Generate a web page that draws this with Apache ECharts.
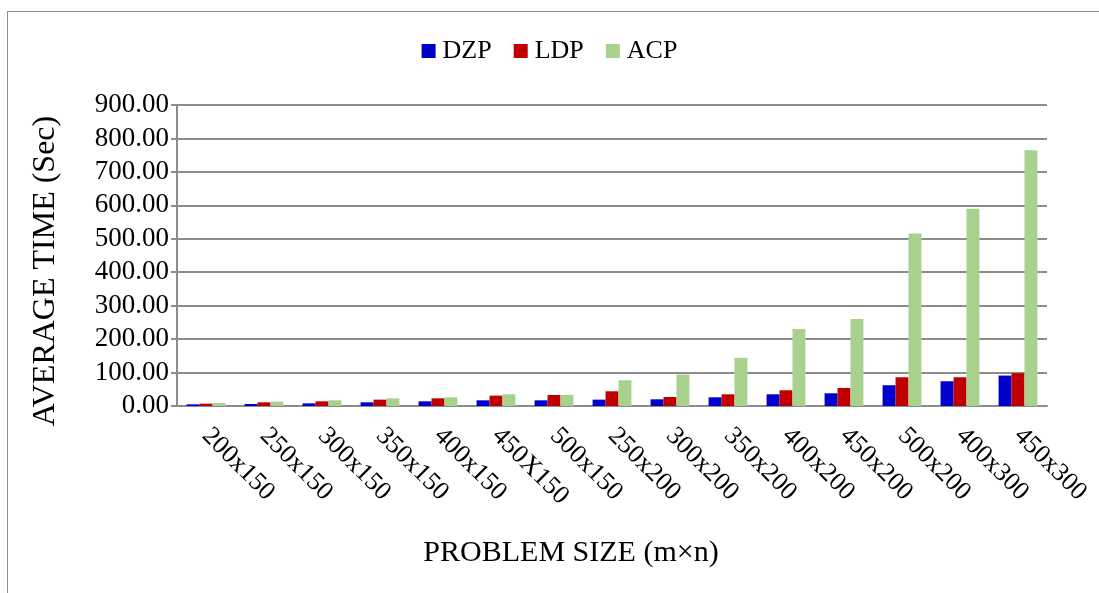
<!DOCTYPE html>
<html>
<head>
<meta charset="utf-8">
<script src="https://cdn.jsdelivr.net/npm/echarts@6/dist/echarts.min.js"></script>
<style>
  html, body { margin: 0; padding: 0; background: #fff; }
  #frame { position: absolute; left: 7px; top: 11px; width: 1100px; height: 600px; border: 1px solid #8c8c8c; border-right: none; border-bottom: none; }
  #chart { width: 1099px; height: 593px; position: absolute; left: 0; top: 0; }
</style>
</head>
<body>
<div id="frame"></div>
<div id="chart"></div>
<script>
  const problemSizes = ['200x150', '250x150', '300x150', '350x150', '400x150', '450X150', '500x150',
    '250x200', '300x200', '350x200', '400x200', '450x200', '500x200', '400x300', '450x300'];
  const dzp = [5, 6, 8, 11, 14, 17, 17, 19, 20, 26, 35, 38, 62, 74, 91];
  const ldp = [7, 11, 14, 19, 23, 31, 33, 44, 27, 35, 47, 54, 86, 86, 98];
  const acp = [9, 13, 17, 23, 26, 35, 33, 77, 94, 144, 230, 260, 516, 590, 765];

  const chartInstance = echarts.init(document.getElementById('chart'));
  const serif = 'Liberation Serif';

  const bar = (name, data, color) => ({
    name: name,
    type: 'bar',
    data: data,
    barGap: '0%',
    barCategoryGap: '33%',
    itemStyle: { color: color },
  });

  const option = {
    animation: false,
    textStyle: { fontFamily: serif, color: '#000' },
    legend: {
      top: 33,
      left: 'center',
      itemWidth: 14,
      itemHeight: 14,
      itemGap: 22,
      icon: 'rect',
      textStyle: { fontFamily: serif, fontSize: 26, color: '#000', padding: [0, 0, 0, 2] },
      data: ['DZP', 'LDP', 'ACP'],
    },
    grid: { left: 177, right: 52, top: 105, bottom: 187 },
    graphic: [
      {
        type: 'text',
        x: 571,
        y: 553,
        style: {
          text: 'PROBLEM SIZE (m\u00d7n)', font: '30px "Liberation Serif"', fill: '#000',
          align: 'center', verticalAlign: 'middle',
        },
      },
      {
        type: 'text',
        x: 46,
        y: 271,
        rotation: Math.PI / 2,
        style: {
          text: 'AVERAGE TIME (Sec)', font: '32px "Liberation Serif"', fill: '#000',
          align: 'center', verticalAlign: 'middle',
        },
      },
    ],
    xAxis: {
      type: 'category',
      data: problemSizes,
      axisLine: { lineStyle: { color: '#8c8c8c', width: 2 } },
      axisTick: { show: false },
      axisLabel: { rotate: -45, fontFamily: serif, fontSize: 26, color: '#000', margin: 26, interval: 0 },
    },
    yAxis: {
      type: 'value',
      min: 0,
      max: 900,
      interval: 100,
      axisLine: { show: true, lineStyle: { color: '#8c8c8c', width: 2 } },
      axisTick: { show: true, length: 6, lineStyle: { color: '#8c8c8c', width: 2 } },
      splitLine: { lineStyle: { color: '#8c8c8c', width: 2 } },
      axisLabel: {
        fontFamily: serif, fontSize: 27, color: '#000', margin: 8,
        formatter: (v) => v.toFixed(2),
      },
    },
    series: [
      bar('DZP', dzp, '#0000cc'),
      bar('LDP', ldp, '#c00000'),
      bar('ACP', acp, '#a9d18e'),
    ],
  };

  chartInstance.setOption(option);
</script>
</body>
</html>
